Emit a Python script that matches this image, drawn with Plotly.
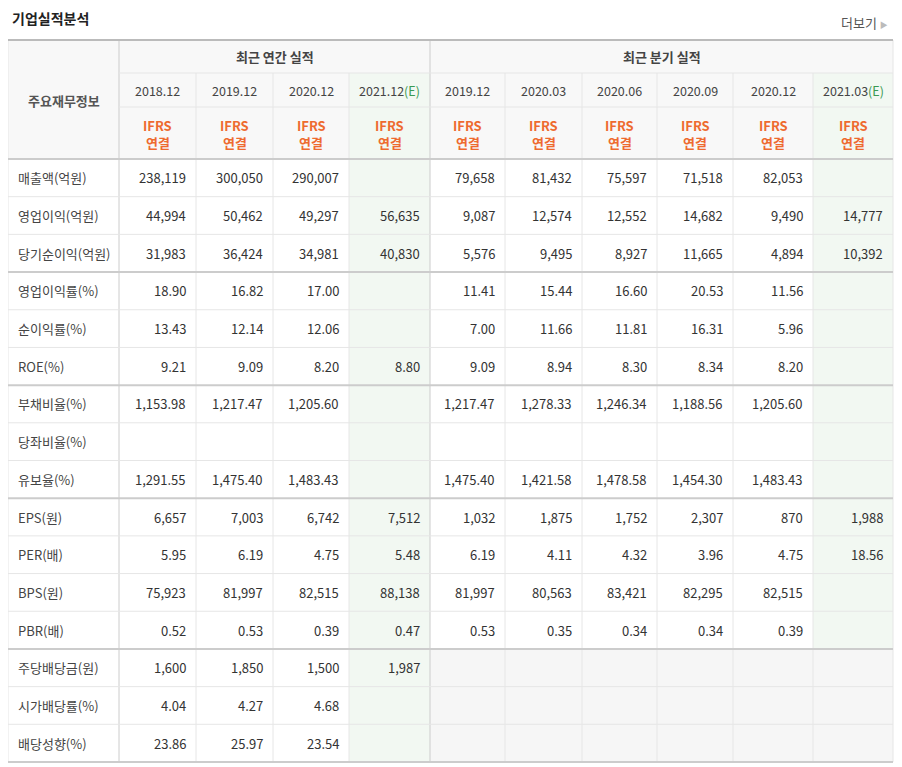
import plotly.graph_objects as go

# table content
row_labels = ["매출액(억원)", "영업이익(억원)", "당기순이익(억원)", "영업이익률(%)", "순이익률(%)", "ROE(%)",
              "부채비율(%)", "당좌비율(%)", "유보율(%)", "EPS(원)", "PER(배)", "BPS(원)", "PBR(배)",
              "주당배당금(원)", "시가배당률(%)", "배당성향(%)"]
annual_periods = ["2018.12", "2019.12", "2020.12", "2021.12"]
quarter_periods = ["2019.12", "2020.03", "2020.06", "2020.09", "2020.12", "2021.03"]
annual = [
    ["238,119", "300,050", "290,007", ""],
    ["44,994", "50,462", "49,297", "56,635"],
    ["31,983", "36,424", "34,981", "40,830"],
    ["18.90", "16.82", "17.00", ""],
    ["13.43", "12.14", "12.06", ""],
    ["9.21", "9.09", "8.20", "8.80"],
    ["1,153.98", "1,217.47", "1,205.60", ""],
    ["", "", "", ""],
    ["1,291.55", "1,475.40", "1,483.43", ""],
    ["6,657", "7,003", "6,742", "7,512"],
    ["5.95", "6.19", "4.75", "5.48"],
    ["75,923", "81,997", "82,515", "88,138"],
    ["0.52", "0.53", "0.39", "0.47"],
    ["1,600", "1,850", "1,500", "1,987"],
    ["4.04", "4.27", "4.68", ""],
    ["23.86", "25.97", "23.54", ""],
]
quarter = [
    ["79,658", "81,432", "75,597", "71,518", "82,053", ""],
    ["9,087", "12,574", "12,552", "14,682", "9,490", "14,777"],
    ["5,576", "9,495", "8,927", "11,665", "4,894", "10,392"],
    ["11.41", "15.44", "16.60", "20.53", "11.56", ""],
    ["7.00", "11.66", "11.81", "16.31", "5.96", ""],
    ["9.09", "8.94", "8.30", "8.34", "8.20", ""],
    ["1,217.47", "1,278.33", "1,246.34", "1,188.56", "1,205.60", ""],
    ["", "", "", "", "", ""],
    ["1,475.40", "1,421.58", "1,478.58", "1,454.30", "1,483.43", ""],
    ["1,032", "1,875", "1,752", "2,307", "870", "1,988"],
    ["6.19", "4.11", "4.32", "3.96", "4.75", "18.56"],
    ["81,997", "80,563", "83,421", "82,295", "82,515", ""],
    ["0.53", "0.35", "0.34", "0.34", "0.39", ""],
    ["", "", "", "", "", ""],
    ["", "", "", "", "", ""],
    ["", "", "", "", "", ""],
]

FONT = "Noto Sans CJK KR, Noto Sans, sans-serif"
TXT = "#333333"
ORANGE = "#ee6a2f"
GREEN = "#3a9a52"
LINE = "#e6e6e6"
HEAD_BG = "#f8f8f8"
EST_BG = "#f2f8f2"
GRAY_BG = "#f6f6f6"

col_x = [8, 119, 196, 273, 349, 430, 505, 582, 657, 733, 813, 893]
top, y_grp, y_date, y_ifrs = 40, 73, 107, 159
row_h = (762 - y_ifrs) / len(row_labels)
row_y = [y_ifrs + i * row_h for i in range(len(row_labels) + 1)]
bottom = row_y[-1]
thick_after = [3, 6, 9, 13]

shapes, ann = [], []

def rect(x0, y0, x1, y1, color):
    shapes.append(dict(type="rect", x0=x0, x1=x1, y0=y0, y1=y1, fillcolor=color, line_width=0, layer="below"))

def hline(x0, x1, y, color=LINE, w=1):
    shapes.append(dict(type="line", x0=x0, x1=x1, y0=y, y1=y, line=dict(color=color, width=w)))

def vline(x, y0, y1, color=LINE, w=1):
    shapes.append(dict(type="line", x0=x, x1=x, y0=y0, y1=y1, line=dict(color=color, width=w)))

def text(x, y, s, color=TXT, size=13, anchor="center", bold=False):
    if bold:
        s = "<b>" + s + "</b>"
    ann.append(dict(x=x, y=y, text=s, showarrow=False, xanchor=anchor, yanchor="middle",
                    font=dict(family=FONT, size=size, color=color)))

# backgrounds
rect(col_x[0], top, col_x[-1], y_ifrs, HEAD_BG)
rect(col_x[4], y_grp, col_x[5], bottom, EST_BG)
rect(col_x[10], y_grp, col_x[11], bottom, EST_BG)
rect(col_x[5], row_y[13], col_x[11], bottom, GRAY_BG)

# grid
for x in col_x[1:-1]:
    y0 = top if x in (col_x[1], col_x[5]) else y_grp
    vline(x, y0, bottom, "#cccccc" if x in (col_x[1], col_x[5]) else LINE)
vline(col_x[0], top, bottom, LINE)
vline(col_x[-1], top, bottom, LINE)
hline(col_x[0], col_x[-1], top, "#bbbbbb", 2)
hline(col_x[1], col_x[-1], y_grp)
hline(col_x[1], col_x[-1], y_date)
hline(col_x[0], col_x[-1], y_ifrs, "#cccccc", 2)
for i in range(1, len(row_labels)):
    if i in thick_after:
        hline(col_x[0], col_x[-1], row_y[i], "#cccccc", 2)
    else:
        hline(col_x[0], col_x[-1], row_y[i])
hline(col_x[0], col_x[-1], bottom, "#cccccc", 2)

# header text
text(10, 18, "기업실적분석", "#222222", 14, "left", bold=True)
text(890, 22, "더보기 <span style='color:#bbbbbb;font-size:8px'>▶</span>", "#555555", 13, "right")
text((col_x[0] + col_x[1]) / 2, 100, "주요재무정보", "#555555", 13, bold=True)
text((col_x[1] + col_x[5]) / 2, (top + y_grp) / 2, "최근 연간 실적", "#444444", 13, bold=True)
text((col_x[5] + col_x[11]) / 2, (top + y_grp) / 2, "최근 분기 실적", "#444444", 13, bold=True)

periods = annual_periods + quarter_periods
for j, p in enumerate(periods):
    cx = (col_x[j + 1] + col_x[j + 2]) / 2
    est = j == 3 or j == len(periods) - 1
    s = p + ("<span style='color:%s'>(E)</span>" % GREEN if est else "")
    text(cx, (y_grp + y_date) / 2, s, "#444444", 12.5)
    mid = (y_date + y_ifrs) / 2
    text(cx, mid - 8, "IFRS", ORANGE, 13, bold=True)
    text(cx, mid + 9, "연결", ORANGE, 13, bold=True)

# body
for i, lab in enumerate(row_labels):
    cy = (row_y[i] + row_y[i + 1]) / 2
    text(16, cy, lab, "#444444", 13, "left")
    vals = annual[i] + quarter[i]
    for j, v in enumerate(vals):
        if v:
            text(col_x[j + 2] - 8, cy, v, TXT, 13, "right")

# page body has an 8px margin, so the plot area starts at (8, 8)
fig = go.Figure()
fig.update_layout(
    width=894, height=759, margin=dict(l=0, r=0, t=0, b=0),
    paper_bgcolor="white", plot_bgcolor="white",
    xaxis=dict(range=[8, 902], visible=False, fixedrange=True),
    yaxis=dict(range=[767, 8], visible=False, fixedrange=True),
    shapes=shapes, annotations=ann, showlegend=False,
)
fig.write_html("out.html")
